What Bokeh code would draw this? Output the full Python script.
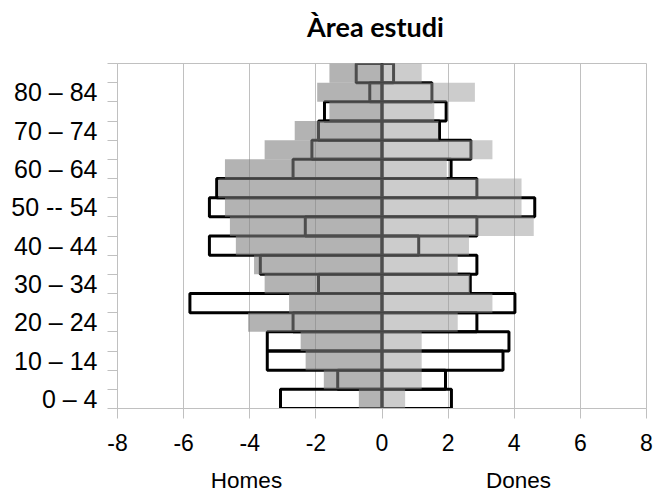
from bokeh.plotting import figure
from bokeh.models import Range1d, FixedTicker, LinearAxis
from bokeh.embed import file_html
from bokeh.resources import INLINE

# age groups from youngest (bottom) to oldest (top)
age_groups = ["0 – 4", "5 – 9", "10 – 14", "15 – 19", "20 – 24", "25 – 29",
              "30 – 34", "35 – 39", "40 – 44", "45 – 49", "50 -- 54", "55 – 59",
              "60 – 64", "65 – 69", "70 – 74", "75 – 79", "80 – 84", "85+"]

# filled bars (Àrea estudi), % of population
homes_area = [-0.70, -1.76, -2.31, -2.46, -4.05, -2.81, -3.55, -3.87, -4.42,
              -4.60, -4.75, -4.95, -4.75, -3.55, -2.64, -1.59, -1.96, -1.59]
dones_area = [0.70, 1.20, 1.20, 1.20, 2.29, 3.34, 2.66, 2.29, 2.63,
              4.59, 4.22, 4.22, 1.96, 3.34, 1.71, 1.58, 2.81, 1.20]

# outlined bars (reference population), % of population
homes_ref = [-3.07, -1.34, -3.47, -3.47, -2.69, -5.81, -1.92, -3.68, -5.22,
             -2.32, -5.22, -5.00, -2.69, -2.12, -1.92, -1.74, -0.37, -0.78]
dones_ref = [2.10, 1.92, 3.66, 3.84, 2.87, 4.02, 2.67, 2.87, 1.11,
             2.87, 4.62, 2.87, 2.09, 2.69, 1.74, 1.94, 1.51, 0.35]

x_ticks = [-8, -6, -4, -2, 0, 2, 4, 6, 8]
x_tick_labels = ["-8", "-6", "-4", "-2", "0", "2", "4", "6", "8"]
title_text = "Àrea estudi"
side_labels = ["Homes", "Dones"]

# layout (pixels)
W, H = 655, 495
FL, FR, FT, FB = 117, 646, 63, 408
title_px = 375
side_px = [246, 518]

n = len(age_groups)
yc = [2 * i + 1 for i in range(n)]          # row centres (each row 2 units tall)
zeros = [0] * n

p = figure(width=W, height=H, output_backend="svg", toolbar_location=None,
           x_range=Range1d(-8, 8), y_range=Range1d(0, 2 * n),
           min_border_left=FL, min_border_right=W - FR, min_border_top=FT,
           min_border_bottom=H - FB)
p.title = None
p.extra_x_ranges = {"px": Range1d(FL, FR)}
p.background_fill_color = "white"
p.border_fill_color = "white"
p.outline_line_color = "#c0c0c0"
p.outline_line_width = 1

# outlined bars first, filled semi-transparent bars on top
p.hbar(y=yc, left=homes_ref, right=zeros, height=2, fill_color=None,
       line_color="black", line_width=3)
p.hbar(y=yc, left=zeros, right=dones_ref, height=2, fill_color=None,
       line_color="black", line_width=3)
p.hbar(y=yc, left=homes_area, right=zeros, height=2, fill_color="#808080",
       fill_alpha=0.6, line_color=None)
p.hbar(y=yc, left=zeros, right=dones_area, height=2, fill_color="#9a9a9a",
       fill_alpha=0.5, line_color=None)

# grids
p.ygrid.visible = False
p.xgrid.ticker = FixedTicker(ticks=x_ticks)
p.xgrid.grid_line_color = "#c0c0c0"
p.xgrid.grid_line_width = 1

# x axis
xa = p.xaxis[0]
xa.ticker = FixedTicker(ticks=x_ticks)
xa.major_label_overrides = dict(zip(x_ticks, x_tick_labels))
xa.axis_line_color = "#c0c0c0"
xa.major_tick_line_color = "#c0c0c0"
xa.major_tick_in = 0
xa.major_tick_out = 10
xa.minor_tick_line_color = None
xa.major_label_text_font = "Liberation Sans"
xa.major_label_text_font_size = "23px"
xa.major_label_text_color = "black"
xa.major_label_standoff = 15


def text_axis(ticks, labels, font, size, style, standoff):
    ax = LinearAxis(x_range_name="px", ticker=FixedTicker(ticks=ticks),
                    major_label_overrides=dict(zip(ticks, labels)))
    ax.axis_line_color = None
    ax.major_tick_line_color = None
    ax.minor_tick_line_color = None
    ax.major_tick_in = 0
    ax.major_tick_out = 0
    ax.major_label_text_font = font
    ax.major_label_text_font_size = size
    ax.major_label_text_font_style = style
    ax.major_label_text_color = "black"
    ax.major_label_standoff = standoff
    return ax


# side names under the axis, title above the frame
p.add_layout(text_axis(side_px, side_labels, "Liberation Sans", "22.5px",
                       "normal", 14), "below")
p.add_layout(text_axis([title_px], [title_text], "Lato", "27px", "bold", 21),
             "above")

# y axis: labels every other row, tick marks at row boundaries
label_pos = [yc[i] for i in range(0, n - 1, 2)]
ya = p.yaxis[0]
ya.ticker = FixedTicker(ticks=label_pos, minor_ticks=list(range(0, 2 * n + 1, 2)))
ya.major_label_overrides = {yc[i]: age_groups[i] for i in range(0, n - 1, 2)}
ya.axis_line_color = "#c0c0c0"
ya.major_tick_line_color = None
ya.major_tick_in = 0
ya.major_tick_out = 0
ya.minor_tick_line_color = "#c0c0c0"
ya.minor_tick_in = 0
ya.minor_tick_out = 10
ya.major_label_text_font = "Liberation Sans"
ya.major_label_text_font_size = "25px"
ya.major_label_text_color = "black"
ya.major_label_standoff = 10

open("out.html", "w").write(file_html(p, INLINE))
